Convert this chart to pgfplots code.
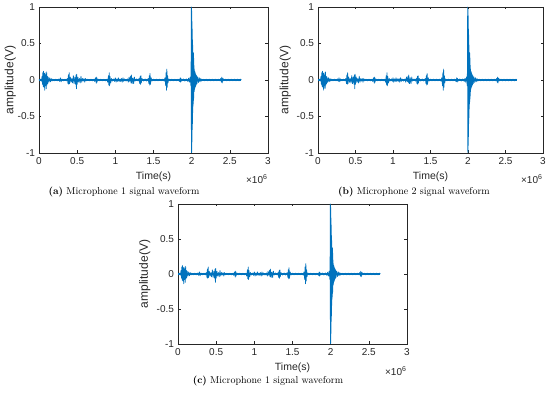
\documentclass[border=0pt]{standalone}
\usepackage{pgfplots}
\usepackage{pgfplotstable}
\pgfplotsset{compat=1.18}
\usepackage{fontspec}
\newfontfamily\axisfont{Liberation Sans}
\definecolor{mblue}{RGB}{0,114,189}
\definecolor{maxis}{RGB}{38,38,38}

\pgfplotstableread{
x y
0 0.01
0.01 -0.012
0.02 0.012
0.03 -0.015
0.04 0.05
0.045 -0.06
0.05 0.10
0.055 -0.09
0.06 0.12
0.065 -0.10
0.07 0.09
0.075 -0.14
0.08 0.10
0.085 -0.08
0.09 0.07
0.095 -0.12
0.10 0.11
0.105 -0.07
0.11 0.05
0.115 -0.05
0.12 0.04
0.13 -0.03
0.14 0.03
0.15 -0.025
0.16 0.02
0.17 -0.015
0.18 0.012
0.20 -0.012
0.22 0.012
0.24 -0.012
0.26 0.015
0.27 -0.02
0.28 0.03
0.29 -0.025
0.30 0.015
0.32 -0.012
0.34 0.012
0.36 -0.012
0.37 0.02
0.38 -0.05
0.385 0.07
0.39 -0.06
0.395 0.10
0.40 -0.05
0.41 0.04
0.42 -0.03
0.43 0.02
0.44 -0.04
0.45 0.06
0.46 -0.05
0.47 0.04
0.48 -0.06
0.485 0.07
0.49 -0.12
0.495 0.08
0.50 -0.06
0.51 0.04
0.52 -0.03
0.53 0.02
0.54 -0.04
0.55 0.05
0.56 -0.03
0.57 0.02
0.58 -0.015
0.59 0.02
0.60 -0.03
0.61 0.02
0.62 -0.012
0.64 0.012
0.66 -0.012
0.68 0.012
0.70 -0.012
0.72 0.012
0.73 -0.02
0.74 0.03
0.75 -0.045
0.755 0.04
0.76 -0.03
0.77 0.015
0.79 -0.012
0.81 0.012
0.83 -0.012
0.85 0.012
0.87 -0.012
0.89 0.012
0.90 -0.03
0.91 0.06
0.915 -0.07
0.92 0.10
0.925 -0.08
0.93 0.05
0.94 -0.04
0.95 0.02
0.96 -0.015
0.98 0.015
0.99 -0.02
1.00 0.03
1.01 -0.03
1.02 0.015
1.03 -0.02
1.04 0.03
1.05 -0.02
1.06 0.015
1.07 -0.02
1.08 0.02
1.09 -0.03
1.10 0.03
1.11 -0.02
1.12 0.015
1.14 -0.015
1.16 0.015
1.17 -0.03
1.18 0.04
1.19 -0.02
1.20 0.05
1.205 -0.04
1.21 0.07
1.22 -0.05
1.23 0.03
1.24 -0.05
1.25 0.04
1.26 -0.015
1.28 0.015
1.30 -0.015
1.31 0.02
1.32 -0.05
1.325 0.05
1.33 -0.06
1.335 0.06
1.34 -0.04
1.35 0.02
1.37 -0.015
1.39 0.015
1.41 -0.015
1.43 0.02
1.44 -0.05
1.445 0.06
1.45 -0.07
1.455 0.09
1.46 -0.06
1.47 0.03
1.48 -0.015
1.50 0.012
1.52 -0.012
1.54 0.012
1.56 -0.012
1.58 0.012
1.60 -0.012
1.62 0.012
1.64 -0.015
1.65 0.03
1.66 -0.08
1.665 0.10
1.67 -0.14
1.675 0.15
1.68 -0.10
1.685 0.06
1.69 -0.04
1.70 0.015
1.72 -0.012
1.74 0.012
1.76 -0.012
1.78 0.012
1.80 -0.012
1.82 0.012
1.84 -0.02
1.85 0.03
1.855 -0.03
1.86 0.02
1.87 -0.015
1.89 0.015
1.91 -0.015
1.93 0.015
1.95 -0.02
1.96 0.025
1.97 -0.03
1.98 0.04
1.99 -0.08
1.993 0.3
1.995 1.0
1.996 -0.9
1.997 0.98
1.998 -1.0
1.999 0.97
2.000 -0.99
2.001 0.95
2.002 -0.9
2.003 0.88
2.004 -0.85
2.005 0.8
2.006 -0.78
2.007 0.7
2.008 -0.68
2.009 0.62
2.010 -0.6
2.011 0.55
2.012 -0.52
2.013 0.48
2.014 -0.45
2.015 0.42
2.016 -0.4
2.017 0.38
2.018 -0.36
2.019 0.35
2.020 -0.33
2.021 0.32
2.022 -0.3
2.023 0.3
2.024 -0.28
2.025 0.37
2.026 -0.26
2.027 0.3
2.029 -0.22
2.031 0.2
2.033 -0.16
2.035 0.15
2.038 -0.13
2.041 0.12
2.044 -0.11
2.047 0.1
2.05 -0.09
2.055 0.08
2.06 -0.07
2.065 0.06
2.07 -0.05
2.08 0.04
2.09 -0.035
2.10 0.03
2.11 -0.025
2.12 0.02
2.13 -0.015
2.15 0.012
2.17 -0.012
2.19 0.012
2.21 -0.012
2.23 0.012
2.25 -0.012
2.27 0.012
2.29 -0.012
2.31 0.012
2.33 -0.012
2.35 0.012
2.37 -0.012
2.38 0.02
2.39 -0.03
2.395 0.04
2.40 -0.04
2.41 0.025
2.42 -0.012
2.44 0.012
2.46 -0.012
2.48 0.012
2.50 -0.012
2.52 0.012
2.54 -0.012
2.56 0.012
2.58 -0.012
2.60 0.012
2.62 -0.012
2.64 0.012
2.65 0
}\wave

\pgfplotstableread{
x y
0 0
2.65 0
}\base

\pgfplotsset{
  mat/.style={
    scale only axis,
    xmin=0, xmax=3, ymin=-1, ymax=1,
    xtick={0,0.5,1,1.5,2,2.5,3},
    xticklabels={0,0.5,1,1.5,2,2.5,3},
    ytick={-1,-0.5,0,0.5,1},
    yticklabels={-1,-0.5,0,0.5,1},
    tick pos=both,
    tick align=inside,
    major tick length=2.5pt,
    axis line style={draw=maxis, line width=0.4pt},
    tick style={draw=maxis, line width=0.4pt},
    /pgf/number format/assume math mode=true,
    ticklabel style={font=\axisfont\fontsize{10}{11}\selectfont, text=maxis},
    xticklabel style={yshift=-1pt},
    yticklabel style={xshift=-0.5pt},
    xlabel={Time(s)},
    ylabel={amplitude(V)},
    xlabel style={font=\axisfont\fontsize{10.5}{11}\selectfont, text=maxis, at={(axis description cs:0.5,0)}, anchor=center, yshift=-24pt},
    ylabel style={font=\axisfont\fontsize{12}{13}\selectfont, text=maxis, anchor=center},
    clip=true,
  },
  wave/.style={color=mblue, line width=0.7pt, line join=round},
  basel/.style={color=mblue, line width=1.3pt}
}

\begin{document}
\begin{tikzpicture}[x=1pt,y=1pt]
\useasboundingbox (0,0) rectangle (550,393);

% (a)
\begin{axis}[mat, at={(39pt,240pt)}, anchor=south west, width=229pt, height=146pt,
  ylabel style={at={(axis description cs:-0.125,0.5)}}]
\addplot[basel] table[x=x,y=y] {\base};
\addplot[wave] table[x=x,y=y] {\wave};
\end{axis}
\node[font=\axisfont\fontsize{10}{11}\selectfont, text=maxis, anchor=east] at (271,214) {×10\textsuperscript{6}};
\node[font=\fontsize{10}{12}\selectfont] at (124,201) {\textbf{(a)} Microphone 1 signal waveform};

% (b)
\begin{axis}[mat, at={(318pt,240pt)}, anchor=south west, width=225pt, height=146pt,
  ylabel style={at={(axis description cs:-0.145,0.5)}}]
\addplot[basel] table[x=x,y=y] {\base};
\addplot[wave] table[x=x,y=y] {\wave};
\end{axis}
\node[font=\axisfont\fontsize{10}{11}\selectfont, text=maxis, anchor=east] at (546,214) {×10\textsuperscript{6}};
\node[font=\fontsize{10}{12}\selectfont] at (414,201) {\textbf{(b)} Microphone 2 signal waveform};

% (c)
\begin{axis}[mat, at={(178pt,49pt)}, anchor=south west, width=229pt, height=140pt,
  ylabel style={at={(axis description cs:-0.145,0.5)}}]
\addplot[basel] table[x=x,y=y] {\base};
\addplot[wave] table[x=x,y=y] {\wave};
\end{axis}
\node[font=\axisfont\fontsize{10}{11}\selectfont, text=maxis, anchor=east] at (410,22) {×10\textsuperscript{6}};
\node[font=\fontsize{10}{12}\selectfont] at (268,12) {\textbf{(c)} Microphone 1 signal waveform};
\end{tikzpicture}
\end{document}
